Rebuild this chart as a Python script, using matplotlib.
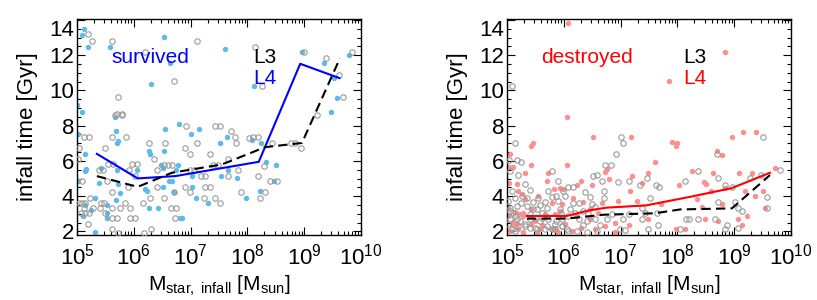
import numpy as np
import matplotlib
matplotlib.use("Agg")
import matplotlib.pyplot as plt
from matplotlib.ticker import MultipleLocator, LogLocator, NullFormatter

plt.rcParams["font.family"] = ["Liberation Sans", "DejaVu Sans"]
plt.rcParams["mathtext.fontset"] = "custom"
plt.rcParams["mathtext.rm"] = "Liberation Sans"
plt.rcParams["mathtext.it"] = "Liberation Sans:italic"
plt.rcParams["mathtext.default"] = "regular"

# ---- survived, L4 (filled blue) : log10 Mstar, infall time [Gyr]
surv_l4_logm = [5.13, 5.09, 5.20, 5.58, 6.54, 7.61, 6.64, 6.31, 8.12, 8.97, 9.35, 9.53, 9.79, 9.57, 9.47, 5.00, 5.08,
                5.67, 6.55, 6.80, 7.01, 7.14, 5.69, 5.02, 5.73, 5.70, 7.52, 7.64, 8.08, 8.24, 5.14, 6.26, 6.29, 6.54,
                5.43, 5.16, 5.14, 5.71, 6.05, 6.48, 6.52, 6.77, 6.74, 6.62, 6.68, 7.03, 7.53, 7.66, 7.82, 8.33, 8.50,
                8.47, 5.01, 5.38, 5.73, 5.76, 6.20, 6.23, 6.52, 6.71, 7.02, 7.10, 7.31, 7.97, 8.22, 5.69, 5.31, 5.52,
                5.14, 5.25, 5.10, 5.52, 5.52, 6.27, 6.43, 6.81, 6.84, 5.31]
surv_l4_t = [13.48, 13.14, 12.49, 12.49, 13.01, 12.35, 11.54, 10.38, 10.23, 12.17, 11.54, 10.70, 11.98, 9.57, 8.78, 9.15, 8.78,
             8.49, 7.83, 8.12, 7.50, 7.83, 7.68, 7.50, 7.12, 7.02, 7.02, 7.34, 7.21, 7.02, 6.40, 6.55, 6.37, 6.55,
             5.61, 5.52, 5.42, 5.48, 5.48, 5.76, 5.61, 5.76, 5.48, 4.86, 4.86, 5.14, 5.14, 5.48, 5.01, 5.95, 5.76,
             4.86, 4.86, 4.73, 4.67, 4.20, 4.39, 4.29, 4.53, 4.25, 4.53, 3.92, 3.64, 3.92, 4.29, 3.79, 3.92, 3.50,
             3.49, 3.20, 2.88, 3.07, 2.75, 3.31, 3.31, 2.75, 2.75, 1.98]

# ---- survived, L3 (open grey)
surv_l3_logm = [5.20, 5.26, 5.61, 7.11, 6.19, 8.13, 6.70, 5.72, 8.26, 8.99, 9.38, 9.61, 9.84, 9.69, 5.70, 5.80, 9.22,
                5.67, 5.79, 6.92, 7.43, 7.52, 7.71, 7.78, 8.03, 8.10, 8.18, 5.61, 5.87, 5.12, 5.22, 5.04, 5.49, 6.27,
                6.55, 7.11, 7.80, 8.43, 8.77, 8.83, 8.94, 6.90, 6.99, 7.34, 6.36, 7.66, 5.01, 5.55, 5.64, 5.96, 6.05,
                6.54, 6.61, 6.68, 7.40, 7.48, 7.84, 5.38, 5.45, 5.92, 6.40, 6.99, 7.06, 8.30, 5.08, 5.52, 6.02, 7.18,
                7.25, 7.66, 8.18, 8.40, 8.52, 5.89, 6.40, 6.90, 7.25, 7.35, 5.61, 6.70, 6.99, 7.89, 8.31, 5.23, 6.29,
                6.54, 7.24, 7.43, 8.22, 7.51, 5.14, 5.04, 5.09, 5.42, 5.48, 5.85, 6.17, 5.13, 5.29, 5.40, 5.61, 5.76,
                5.93, 6.66, 6.74, 5.21, 5.14, 5.07, 5.49, 5.61, 5.70, 5.93, 6.02, 6.73, 5.20, 5.61, 6.30, 5.73, 6.18]
surv_l3_t = [13.19, 12.82, 12.82, 12.82, 12.17, 12.49, 10.56, 9.60, 10.23, 12.17, 11.86, 10.85, 12.17, 9.60, 8.68, 8.68, 8.63,
             8.62, 8.62, 8.00, 8.00, 8.00, 7.68, 7.34, 7.31, 7.34, 7.34, 7.34, 7.34, 7.34, 7.34, 6.74, 6.74, 7.02,
             7.02, 7.02, 7.02, 7.02, 7.02, 7.02, 6.74, 6.74, 6.40, 6.40, 6.12, 6.12, 6.12, 5.81, 5.81, 5.81, 5.81,
             5.77, 5.77, 5.77, 5.77, 5.77, 5.46, 5.46, 5.46, 5.46, 5.48, 5.48, 5.48, 5.74, 4.86, 4.86, 5.14, 5.14,
             5.14, 5.14, 5.14, 4.86, 4.86, 4.53, 4.53, 4.53, 4.53, 4.53, 4.25, 4.25, 4.25, 4.25, 4.25, 3.92, 3.92,
             3.92, 3.92, 3.92, 3.92, 3.64, 3.64, 3.64, 3.64, 3.61, 3.61, 3.61, 3.61, 3.31, 3.31, 3.31, 3.31, 3.31,
             3.31, 3.31, 3.31, 3.03, 3.03, 3.03, 3.03, 2.75, 2.75, 2.75, 2.75, 2.75, 2.41, 2.13, 2.13, 1.90, 1.90]

# ---- destroyed, L4 (filled red)
dest_l4_logm = [6.08, 8.83, 7.85, 6.06, 6.52, 7.18, 7.90, 7.99, 7.97, 8.96, 9.15, 9.38, 5.42, 5.45, 5.05, 5.43, 6.05,
                6.73, 6.76, 8.69, 8.78, 5.04, 5.11, 5.32, 5.73, 7.61, 8.25, 8.63, 9.09, 9.31, 9.72, 8.47, 8.51, 7.20,
                6.80, 6.31, 5.70, 5.04, 5.17, 5.99, 5.93, 6.23, 6.49, 5.83, 7.17, 7.37, 7.49, 8.02, 8.60, 8.84, 9.19,
                9.51, 9.54, 5.20, 5.26, 5.32, 5.55, 6.17, 6.34, 6.67, 6.96, 7.28, 7.72, 8.34, 8.79, 9.07, 9.22, 9.13,
                8.49, 7.49, 8.13, 7.98, 6.61, 6.46, 5.96, 5.79, 5.02, 5.14, 5.21, 5.29, 5.43, 5.67, 5.85, 6.23, 6.46,
                6.90, 7.14, 5.08, 5.17, 5.43, 5.61, 5.79, 6.02, 6.31, 6.55, 6.73, 5.05, 5.29, 5.52, 5.90, 6.14, 6.90,
                8.43, 8.72, 9.37,
                5.11, 5.29, 5.49, 5.67, 5.85, 6.02, 5.20, 5.58, 5.93, 5.02]
dest_l4_t = [13.85, 12.17, 10.56, 8.47, 7.36, 7.36, 7.06, 6.99, 6.87, 7.36, 7.66, 7.66, 6.87, 7.02, 6.42, 5.76, 5.76,
             5.39, 5.52, 6.55, 6.36, 5.65, 5.65, 5.33, 5.33, 5.95, 5.42, 5.33, 5.33, 5.29, 5.61, 4.83, 4.70, 5.14,
             4.95, 4.87, 4.87, 4.76, 4.71, 4.40, 4.46, 4.63, 4.63, 4.40, 4.29, 4.76, 5.33, 4.63, 4.29, 4.48, 4.29,
             4.29, 3.33, 4.29, 4.10, 3.82, 4.01, 3.92, 3.67, 3.63, 3.72, 3.72, 3.54, 3.82, 3.54, 2.69, 2.88, 2.35,
             2.73, 2.73, 2.12, 2.12, 3.07, 3.26, 3.54, 3.63, 3.35, 3.11, 2.98, 2.88, 3.26, 2.92, 2.98, 2.88, 2.69,
             2.50, 2.35, 2.35, 2.41, 2.41, 2.35, 2.12, 2.41, 2.22, 2.12, 2.31, 2.03, 1.97, 1.93, 1.97, 2.03, 1.97,
             3.39, 2.60, 4.01,
             2.51, 3.07, 2.60, 2.98, 2.13, 2.41, 2.13, 2.13, 3.16, 2.86]

# ---- destroyed, L3 (open grey)
dest_l3_logm = [5.09, 7.01, 7.05, 6.92, 8.70, 9.50, 5.14, 5.04, 5.17, 5.25, 5.05, 5.20, 5.79, 6.73, 6.83, 6.58, 6.67,
                6.96, 7.14, 6.52, 7.34, 7.46, 7.63, 7.68, 8.13, 8.37, 8.72, 8.84, 8.97, 8.72, 9.01, 9.28, 9.48, 9.81,
                9.58, 9.57, 9.07, 9.14, 8.66, 8.37, 8.20, 8.16, 8.87, 8.84, 9.07, 8.04, 7.64, 7.52, 7.37, 7.43, 7.37,
                7.49, 7.66, 7.14, 7.05, 6.99, 7.08, 6.84, 6.70, 6.70, 6.37, 6.46, 6.49, 6.55, 6.17, 6.26, 6.08, 6.17,
                5.99, 6.02, 5.87, 5.90, 5.89, 5.73, 5.79, 5.67, 5.55, 5.46, 5.32, 5.40, 5.26, 5.35, 5.25, 5.08, 5.14,
                5.02, 5.05, 5.11, 5.17, 5.05, 5.02, 5.20, 5.14, 5.40, 5.49, 5.58, 5.73, 5.85, 5.96, 5.67, 5.85, 6.08,
                6.27, 6.40, 6.34, 6.55, 6.64, 6.23, 6.40, 6.58, 6.76, 5.35, 5.52, 5.61, 5.40, 5.58, 6.11, 6.20, 6.08,
                6.34, 6.43, 5.93, 5.95, 5.31, 5.49, 5.96,
                5.05, 5.14, 5.23, 5.32, 5.40, 5.52, 5.61, 5.70, 5.79, 5.87, 5.96, 6.05, 5.08, 5.17, 5.46, 5.70]
dest_l3_t = [10.23, 7.36, 7.02, 6.37, 6.38, 7.36, 7.02, 6.08, 6.08, 5.93, 5.42, 5.23, 5.42, 5.76, 5.76, 5.23, 4.87,
             4.83, 4.87, 5.14, 4.65, 5.02, 4.65, 4.52, 4.87, 5.42, 5.06, 4.63, 4.54, 3.67, 3.67, 5.02, 5.18, 5.48,
             3.96, 3.33, 3.33, 3.16, 2.73, 2.73, 2.73, 2.73, 2.35, 2.12, 2.22, 2.12, 3.03, 3.92, 3.33, 3.03, 2.73,
             2.12, 2.35, 2.97, 2.69, 2.12, 2.08, 2.97, 4.29, 3.92, 4.23, 3.96, 3.54, 3.41, 3.63, 3.63, 4.54, 4.54,
             4.29, 4.01, 4.01, 3.72, 4.86, 4.29, 3.96, 3.67, 3.92, 3.67, 4.67, 4.35, 4.01, 3.92, 3.63, 4.29, 3.92,
             3.72, 3.35, 3.07, 2.73, 2.73, 2.41, 2.31, 2.03, 2.69, 2.79, 2.60, 2.73, 2.41, 2.31, 2.12, 2.12, 2.03,
             2.73, 2.60, 2.35, 2.69, 2.35, 2.03, 1.97, 2.03, 2.69, 3.45, 3.26, 3.07, 2.98, 3.49, 3.26, 3.07, 2.88,
             3.16, 2.97, 3.30, 3.03, 2.31, 2.22, 2.69,
             3.16, 2.88, 2.60, 2.41, 2.22, 2.13, 2.79, 2.32, 2.13, 2.60, 2.32, 2.13, 2.13, 3.45, 3.26, 3.35]

# ---- median curves
surv_l4_line_logm = [5.35, 6.07, 6.73, 8.20, 8.93, 9.62]
surv_l4_line_t = [6.40, 5.01, 5.14, 5.95, 11.51, 10.70]
surv_l3_line_logm = [5.35, 6.07, 6.67, 7.55, 8.31, 8.96, 9.63]
surv_l3_line_t = [5.14, 4.53, 5.33, 5.80, 6.78, 7.02, 11.83]
dest_l4_line_logm = [5.35, 6.05, 6.45, 6.75, 7.45, 8.20, 8.95, 9.63]
dest_l4_line_t = [2.88, 2.88, 3.20, 3.35, 3.48, 3.95, 4.45, 5.33]
dest_l3_line_logm = [5.35, 6.05, 6.70, 7.60, 8.05, 8.96, 9.63]
dest_l3_line_t = [2.73, 2.73, 2.95, 3.03, 3.25, 3.31, 5.20]

W, H = 817, 300
fig = plt.figure(figsize=(W / 100, H / 100), dpi=100)

panels = [
    dict(left=77, l4m=surv_l4_logm, l4t=surv_l4_t, l3m=surv_l3_logm, l3t=surv_l3_t,
         lm4=surv_l4_line_logm, lt4=surv_l4_line_t, lm3=surv_l3_line_logm, lt3=surv_l3_line_t,
         dot="#5cbbe8", line="#0000ff", label="survived"),
    dict(left=507, l4m=dest_l4_logm, l4t=dest_l4_t, l3m=dest_l3_logm, l3t=dest_l3_t,
         lm4=dest_l4_line_logm, lt4=dest_l4_line_t, lm3=dest_l3_line_logm, lt3=dest_l3_line_t,
         dot="#ff8f8f", line="#ff0000", label="destroyed"),
]

for p in panels:
    ax = fig.add_axes([p["left"] / W, 1 - 235 / H, 284 / W, 216 / H])
    ax.plot(10 ** np.array(p["l4m"]), p["l4t"], "o", ms=3.9, mfc=p["dot"], mec="none", zorder=2)
    ax.plot(10 ** np.array(p["l3m"]), p["l3t"], "o", ms=3.9, mfc="none", mec="#9a9a9a", mew=0.8, zorder=3)
    ax.plot(10 ** np.array(p["lm4"]), p["lt4"], "-", color=p["line"], lw=1.5, zorder=4)
    ax.plot(10 ** np.array(p["lm3"]), p["lt3"], color="black", lw=1.5, dashes=(4.5, 2.5), zorder=4)

    ax.set_xscale("log")
    ax.set_xlim(1e5, 1e10)
    ax.xaxis.set_major_locator(LogLocator(base=10, numticks=20))
    ax.xaxis.set_minor_locator(LogLocator(base=10, subs=np.arange(2, 10), numticks=100))
    ax.xaxis.set_minor_formatter(NullFormatter())
    ax.set_ylim(1.8, 14.05)
    ax.yaxis.set_major_locator(MultipleLocator(2))
    ax.yaxis.set_minor_locator(MultipleLocator(0.5))
    ax.tick_params(which="both", direction="in", top=True, right=True, width=0.8)
    ax.tick_params(which="major", length=6, labelsize=16)
    ax.tick_params(axis="y", which="major", pad=2)
    ax.tick_params(axis="x", which="major", pad=6)
    ax.tick_params(which="minor", length=3)
    for s in ax.spines.values():
        s.set_linewidth(1.0)

    ax.set_ylabel("infall time [Gyr]", fontsize=16, labelpad=8)
    ax.set_xlabel(r"M$_{\rm star,\ infall}$ [M$_{\rm sun}$]", fontsize=15, labelpad=3)

    ax.text(10 ** 5.60, 11.55, p["label"], color=p["line"], fontsize=15)
    ax.text(10 ** 8.10, 11.55, "L3", color="black", fontsize=15)
    ax.text(10 ** 8.10, 10.38, "L4", color=p["line"], fontsize=15)

    fig.canvas.draw()
    for tk in ax.yaxis.get_major_ticks():
        if abs(tk.get_loc() - 14) < 1e-6:
            tk.label1.set_verticalalignment("top")

fig.savefig("out.png", dpi=100)
